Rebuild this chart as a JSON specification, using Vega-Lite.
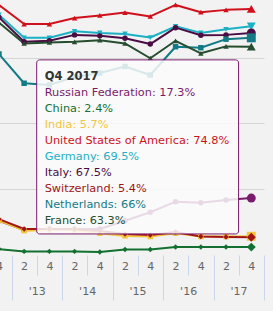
{
  "$schema": "https://vega.github.io/schema/vega-lite/v6.json",
  "width": 266,
  "height": 255,
  "autosize": "none",
  "padding": {"left": -2, "top": 0, "right": 9, "bottom": 56},
  "background": "#f2f2f2",
  "config": {
    "view": {"stroke": null},
    "font": "DejaVu Sans",
    "axis": {"domain": false, "title": null, "labelFlush": false, "labelOverlap": false, "labelBound": false, "tickColor": "#ccd6eb", "labelColor": "#666666", "labelFontSize": 11}
  },
  "datasets": {
    "share": [
      {"country": "Russian Federation", "period": "2012-10-01", "value": 10.4},
      {"country": "Russian Federation", "period": "2013-04-01", "value": 7.6},
      {"country": "Russian Federation", "period": "2013-10-01", "value": 7.9},
      {"country": "Russian Federation", "period": "2014-04-01", "value": 7.9},
      {"country": "Russian Federation", "period": "2014-10-01", "value": 7.9},
      {"country": "Russian Federation", "period": "2015-04-01", "value": 10.4},
      {"country": "Russian Federation", "period": "2015-10-01", "value": 13.0},
      {"country": "Russian Federation", "period": "2016-04-01", "value": 16.2},
      {"country": "Russian Federation", "period": "2016-10-01", "value": 15.9},
      {"country": "Russian Federation", "period": "2017-04-01", "value": 16.7},
      {"country": "Russian Federation", "period": "2017-10-01", "value": 17.3},
      {"country": "China", "period": "2012-10-01", "value": 1.8},
      {"country": "China", "period": "2013-04-01", "value": 1.1},
      {"country": "China", "period": "2013-10-01", "value": 1.1},
      {"country": "China", "period": "2014-04-01", "value": 1.1},
      {"country": "China", "period": "2014-10-01", "value": 0.9},
      {"country": "China", "period": "2015-04-01", "value": 1.7},
      {"country": "China", "period": "2015-10-01", "value": 1.7},
      {"country": "China", "period": "2016-04-01", "value": 2.4},
      {"country": "China", "period": "2016-10-01", "value": 2.4},
      {"country": "China", "period": "2017-04-01", "value": 2.4},
      {"country": "China", "period": "2017-10-01", "value": 2.4},
      {"country": "India", "period": "2012-10-01", "value": 10.5},
      {"country": "India", "period": "2013-04-01", "value": 7.4},
      {"country": "India", "period": "2013-10-01", "value": 7.6},
      {"country": "India", "period": "2014-04-01", "value": 7.6},
      {"country": "India", "period": "2014-10-01", "value": 6.6},
      {"country": "India", "period": "2015-04-01", "value": 5.8},
      {"country": "India", "period": "2015-10-01", "value": 5.6},
      {"country": "India", "period": "2016-04-01", "value": 6.6},
      {"country": "India", "period": "2016-10-01", "value": 5.6},
      {"country": "India", "period": "2017-04-01", "value": 5.6},
      {"country": "India", "period": "2017-10-01", "value": 5.7},
      {"country": "United States of America", "period": "2012-10-01", "value": 76.0},
      {"country": "United States of America", "period": "2013-04-01", "value": 70.2},
      {"country": "United States of America", "period": "2013-10-01", "value": 70.2},
      {"country": "United States of America", "period": "2014-04-01", "value": 72.0},
      {"country": "United States of America", "period": "2014-10-01", "value": 72.8},
      {"country": "United States of America", "period": "2015-04-01", "value": 73.7},
      {"country": "United States of America", "period": "2015-10-01", "value": 72.5},
      {"country": "United States of America", "period": "2016-04-01", "value": 76.0},
      {"country": "United States of America", "period": "2016-10-01", "value": 73.8},
      {"country": "United States of America", "period": "2017-04-01", "value": 74.5},
      {"country": "United States of America", "period": "2017-10-01", "value": 74.8},
      {"country": "Germany", "period": "2012-10-01", "value": 73.0},
      {"country": "Germany", "period": "2013-04-01", "value": 66.0},
      {"country": "Germany", "period": "2013-10-01", "value": 66.0},
      {"country": "Germany", "period": "2014-04-01", "value": 68.0},
      {"country": "Germany", "period": "2014-10-01", "value": 67.5},
      {"country": "Germany", "period": "2015-04-01", "value": 67.2},
      {"country": "Germany", "period": "2015-10-01", "value": 66.1},
      {"country": "Germany", "period": "2016-04-01", "value": 69.5},
      {"country": "Germany", "period": "2016-10-01", "value": 67.5},
      {"country": "Germany", "period": "2017-04-01", "value": 68.6},
      {"country": "Germany", "period": "2017-10-01", "value": 69.5},
      {"country": "Italy", "period": "2012-10-01", "value": 72.2},
      {"country": "Italy", "period": "2013-04-01", "value": 64.8},
      {"country": "Italy", "period": "2013-10-01", "value": 65.1},
      {"country": "Italy", "period": "2014-04-01", "value": 66.9},
      {"country": "Italy", "period": "2014-10-01", "value": 66.6},
      {"country": "Italy", "period": "2015-04-01", "value": 65.9},
      {"country": "Italy", "period": "2015-10-01", "value": 64.1},
      {"country": "Italy", "period": "2016-04-01", "value": 69.1},
      {"country": "Italy", "period": "2016-10-01", "value": 66.8},
      {"country": "Italy", "period": "2017-04-01", "value": 66.9},
      {"country": "Italy", "period": "2017-10-01", "value": 67.5},
      {"country": "Switzerland", "period": "2012-10-01", "value": 10.9},
      {"country": "Switzerland", "period": "2013-04-01", "value": 7.9},
      {"country": "Switzerland", "period": "2013-10-01", "value": 7.9},
      {"country": "Switzerland", "period": "2014-04-01", "value": 7.8},
      {"country": "Switzerland", "period": "2014-10-01", "value": 7.3},
      {"country": "Switzerland", "period": "2015-04-01", "value": 6.4},
      {"country": "Switzerland", "period": "2015-10-01", "value": 6.1},
      {"country": "Switzerland", "period": "2016-04-01", "value": 7.0},
      {"country": "Switzerland", "period": "2016-10-01", "value": 5.6},
      {"country": "Switzerland", "period": "2017-04-01", "value": 5.5},
      {"country": "Switzerland", "period": "2017-10-01", "value": 5.4},
      {"country": "Netherlands", "period": "2012-10-01", "value": 61.1},
      {"country": "Netherlands", "period": "2013-04-01", "value": 52.2},
      {"country": "Netherlands", "period": "2013-10-01", "value": 51.7},
      {"country": "Netherlands", "period": "2014-04-01", "value": 54.1},
      {"country": "Netherlands", "period": "2014-10-01", "value": 55.3},
      {"country": "Netherlands", "period": "2015-04-01", "value": 57.3},
      {"country": "Netherlands", "period": "2015-10-01", "value": 54.7},
      {"country": "Netherlands", "period": "2016-04-01", "value": 63.3},
      {"country": "Netherlands", "period": "2016-10-01", "value": 63.0},
      {"country": "Netherlands", "period": "2017-04-01", "value": 65.6},
      {"country": "Netherlands", "period": "2017-10-01", "value": 66},
      {"country": "France", "period": "2012-10-01", "value": 70.6},
      {"country": "France", "period": "2013-04-01", "value": 64.3},
      {"country": "France", "period": "2013-10-01", "value": 64.6},
      {"country": "France", "period": "2014-04-01", "value": 64.8},
      {"country": "France", "period": "2014-10-01", "value": 65.3},
      {"country": "France", "period": "2015-04-01", "value": 64.3},
      {"country": "France", "period": "2015-10-01", "value": 59.8},
      {"country": "France", "period": "2016-04-01", "value": 65.1},
      {"country": "France", "period": "2016-10-01", "value": 61.3},
      {"country": "France", "period": "2017-04-01", "value": 63.4},
      {"country": "France", "period": "2017-10-01", "value": 63.3}
    ]
  },
  "data": {"name": "share"},
  "layer": [
    {
      "mark": {"type": "line", "strokeWidth": 2, "strokeJoin": "round", "strokeCap": "round", "clip": true},
      "encoding": {
        "x": {
          "field": "period", "type": "temporal",
          "scale": {"type": "utc", "domain": [{"year": 2012, "month": 9, "date": 24, "utc": true}, {"year": 2018, "month": 1, "date": 1, "utc": true}]},
          "axis": {
            "orient": "bottom", "grid": false, "ticks": false, "tickSize": 0,
            "labelPadding": 11, "labelBaseline": "middle",
            "labelExpr": "utcmonth(datum.value) === 3 ? '2' : '4'",
            "values": [
              {"year": 2012, "month": 10, "date": 1, "utc": true},
              {"year": 2013, "month": 4, "date": 1, "utc": true}, {"year": 2013, "month": 10, "date": 1, "utc": true},
              {"year": 2014, "month": 4, "date": 1, "utc": true}, {"year": 2014, "month": 10, "date": 1, "utc": true},
              {"year": 2015, "month": 4, "date": 1, "utc": true}, {"year": 2015, "month": 10, "date": 1, "utc": true},
              {"year": 2016, "month": 4, "date": 1, "utc": true}, {"year": 2016, "month": 10, "date": 1, "utc": true},
              {"year": 2017, "month": 4, "date": 1, "utc": true}, {"year": 2017, "month": 10, "date": 1, "utc": true}
            ]
          }
        },
        "y": {
          "field": "value", "type": "quantitative",
          "scale": {"domain": [0, 77.5], "nice": false},
          "axis": {"grid": true, "values": [20, 40, 60], "gridColor": "#d5d5d5", "labels": false, "ticks": false}
        },
        "color": {
          "field": "country", "type": "nominal", "legend": null,
          "scale": {
            "domain": ["Russian Federation", "China", "India", "United States of America", "Germany", "Italy", "Switzerland", "Netherlands", "France"],
            "range": ["#7a1a6c", "#137030", "#f3c53c", "#d0111c", "#1cb0c4", "#4a0d43", "#a01515", "#137b86", "#264d2f"]
          }
        },
        "strokeWidth": {"condition": {"test": "datum.country === 'Russian Federation'", "value": 3}, "value": 2}
      }
    },
    {
      "mark": {"type": "point", "filled": true, "opacity": 1, "clip": true},
      "encoding": {
        "x": {
          "field": "period", "type": "temporal",
          "scale": {"type": "utc", "domain": [{"year": 2012, "month": 9, "date": 24, "utc": true}, {"year": 2018, "month": 1, "date": 1, "utc": true}]},
          "axis": {
            "orient": "bottom", "grid": false, "tickSize": 20,
            "labelPadding": 16, "labelBaseline": "middle", "format": "'%y",
            "values": [
              {"year": 2013, "month": 7, "date": 1, "utc": true}, {"year": 2014, "month": 7, "date": 1, "utc": true},
              {"year": 2015, "month": 7, "date": 1, "utc": true}, {"year": 2016, "month": 7, "date": 1, "utc": true},
              {"year": 2017, "month": 7, "date": 1, "utc": true}
            ]
          }
        },
        "y": {"field": "value", "type": "quantitative", "scale": {"domain": [0, 77.5], "nice": false}, "axis": null},
        "color": {"field": "country", "type": "nominal", "legend": null},
        "shape": {
          "field": "country", "type": "nominal", "legend": null,
          "scale": {
            "domain": ["Russian Federation", "China", "India", "United States of America", "Germany", "Italy", "Switzerland", "Netherlands", "France"],
            "range": ["circle", "diamond", "square", "triangle-up", "triangle-down", "circle", "diamond", "square", "triangle-up"]
          }
        },
        "size": {"condition": {"test": "time(datum.period) === utc(2017, 9, 1)", "value": 80}, "value": 30}
      }
    },
    {
      "data": {"values": [{}]},
      "mark": {"type": "rect", "fill": "#fbfbfb", "fillOpacity": 0.85, "stroke": "#7a1a6c", "strokeWidth": 1, "cornerRadius": 3},
      "encoding": {
        "x": {
          "datum": {"year": 2013, "month": 7, "date": 1, "utc": true}, "type": "temporal",
          "scale": {"type": "utc", "domain": [{"year": 2012, "month": 9, "date": 24, "utc": true}, {"year": 2018, "month": 1, "date": 1, "utc": true}]},
          "axis": {
            "orient": "bottom", "grid": false, "tickSize": 45, "labels": false,
            "values": [
              {"year": 2013, "month": 1, "date": 1, "utc": true}, {"year": 2014, "month": 1, "date": 1, "utc": true},
              {"year": 2015, "month": 1, "date": 1, "utc": true}, {"year": 2016, "month": 1, "date": 1, "utc": true},
              {"year": 2017, "month": 1, "date": 1, "utc": true}, {"year": 2018, "month": 1, "date": 1, "utc": true}
            ]
          }
        },
        "x2": {"datum": {"year": 2017, "month": 7, "date": 1, "utc": true}},
        "y": {"datum": 59.3, "type": "quantitative", "scale": {"domain": [0, 77.5], "nice": false}, "axis": null},
        "y2": {"datum": 6.4}
      }
    },
    {
      "layer": [
        {
          "data": {"values": [{}]},
          "mark": {"type": "text", "text": "Q4 2017", "align": "left", "baseline": "middle", "dx": 8, "fontSize": 11.5, "fontWeight": "bold", "color": "#333333"},
          "encoding": {
            "x": {"datum": {"year": 2013, "month": 7, "date": 1, "utc": true}, "type": "temporal", "axis": null},
            "y": {
              "datum": "Q4 2017", "type": "nominal", "axis": null,
              "scale": {"type": "point", "domain": ["Q4 2017", "Russian Federation", "China", "India", "United States of America", "Germany", "Italy", "Switzerland", "Netherlands", "France"], "range": [76.5, 220.5], "padding": 0, "round": false}
            }
          }
        },
        {
          "transform": [{"filter": "time(datum.period) === utc(2017, 9, 1)"}],
          "mark": {"type": "text", "align": "left", "baseline": "middle", "dx": 8, "fontSize": 11.3, "text": {"expr": "datum.country + ': ' + datum.value + '%'"}},
          "encoding": {
            "x": {"datum": {"year": 2013, "month": 7, "date": 1, "utc": true}, "type": "temporal", "axis": null},
            "y": {
              "field": "country", "type": "nominal", "axis": null,
              "scale": {"type": "point", "domain": ["Q4 2017", "Russian Federation", "China", "India", "United States of America", "Germany", "Italy", "Switzerland", "Netherlands", "France"], "range": [76.5, 220.5], "padding": 0, "round": false}
            },
            "color": {"field": "country", "type": "nominal", "legend": null}
          }
        }
      ]
    }
  ],
  "resolve": {"axis": {"x": "independent"}, "scale": {"y": "independent"}}
}
